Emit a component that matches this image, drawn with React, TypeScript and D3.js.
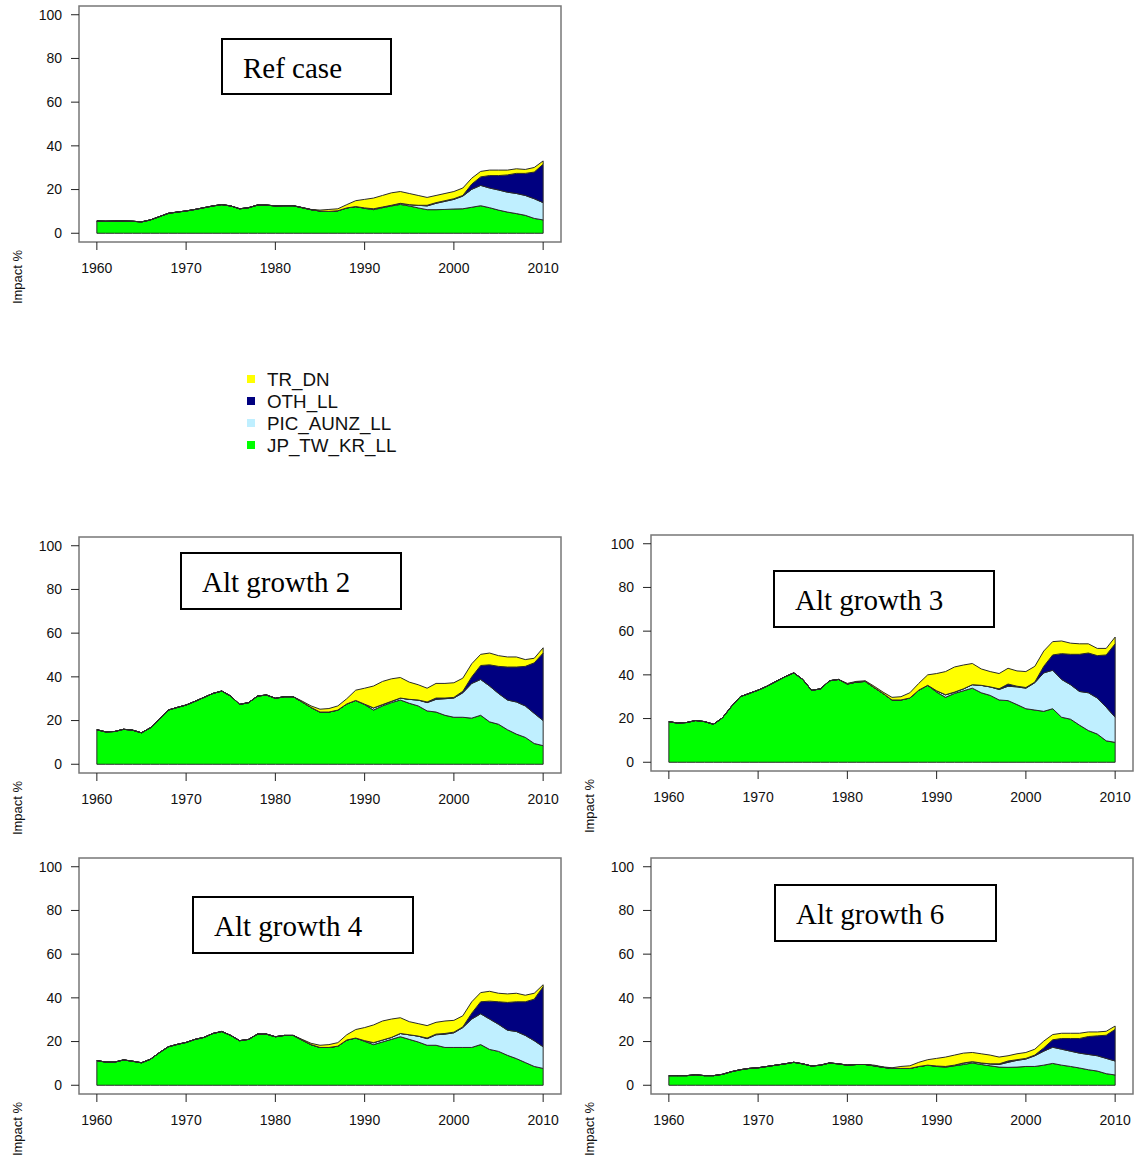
import React from 'react';
import * as d3 from 'd3';

const years = d3.range(1960, 2011);
const xTicks = [1960, 1970, 1980, 1990, 2000, 2010];
const yTicks = [0, 20, 40, 60, 80, 100];
const seriesNames = ['JP_TW_KR_LL', 'PIC_AUNZ_LL', 'OTH_LL', 'TR_DN'];
const seriesColors = ['#00FF00', '#BFEFFF', '#000080', '#FFFF00'];
const legendOrder = [3, 2, 1, 0];

// ---------- Ref case ----------
const refJP = [
  5.6, 5.5, 5.6, 5.6, 5.5, 5.2, 6.1, 7.6, 9.1, 9.7,
  10.2, 10.9, 11.7, 12.5, 13.1, 12.5, 11.2, 11.7, 12.9, 12.9,
  12.5, 12.6, 12.6, 11.7, 10.8, 10.2, 10.0, 10.3, 11.6, 12.2,
  11.4, 10.8, 11.7, 12.5, 13.2, 12.5, 11.6, 10.8, 10.8, 10.9,
  11.1, 11.2, 11.9, 12.6, 11.7, 10.6, 9.7, 9.0, 8.2, 6.8, 6.1];
const refPIC = [
  0, 0, 0, 0, 0, 0, 0, 0, 0, 0,
  0, 0, 0, 0, 0, 0, 0, 0, 0, 0,
  0, 0, 0, 0, 0, 0, 0, 0, 0, 0,
  0.2, 0.4, 0.3, 0.3, 0.5, 0.6, 1.2, 1.7, 2.9, 3.7,
  4.4, 5.8, 8.2, 9.3, 9.0, 9.2, 9.1, 9.2, 9.1, 9.0, 7.9];
const refOTH = [
  0, 0, 0, 0, 0, 0, 0, 0, 0, 0,
  0, 0, 0, 0, 0, 0, 0, 0, 0, 0,
  0, 0, 0, 0, 0, 0, 0, 0, 0, 0,
  0, 0, 0, 0, 0, 0, 0, 0.3, 0.3, 0.3,
  0.3, 0.3, 2.4, 3.9, 5.7, 6.6, 7.9, 9.2, 10.1, 12.2, 17.6];
const refTR = [
  0, 0, 0, 0, 0, 0, 0, 0, 0, 0,
  0, 0, 0, 0, 0, 0, 0, 0, 0, 0,
  0, 0, 0, 0.1, 0.1, 0.4, 0.9, 0.9, 1.5, 2.7,
  3.9, 4.9, 5.3, 5.7, 5.4, 5.1, 4.5, 3.6, 3.3, 3.3,
  3.3, 3.4, 2.7, 2.5, 2.5, 2.5, 2.2, 2.1, 1.8, 2.1, 1.5];

// ---------- Alt growth 2 ----------
const ag2JP = [
  15.8, 14.8, 15.0, 16.0, 15.6, 14.4, 16.7, 20.6, 24.8, 26.0,
  27.1, 28.8, 30.6, 32.4, 33.5, 31.2, 27.4, 28.2, 31.2, 31.7,
  30.2, 30.9, 30.9, 28.5, 26.0, 23.9, 23.9, 24.8, 27.6, 29.2,
  27.3, 24.8, 26.7, 28.2, 29.4, 27.9, 26.7, 24.4, 23.9, 22.4,
  21.5, 21.5, 21.1, 22.4, 19.4, 18.3, 15.8, 13.8, 12.3, 9.5, 8.5];
const ag2PIC = [
  0, 0, 0, 0, 0, 0, 0, 0, 0, 0,
  0, 0, 0, 0, 0, 0, 0, 0, 0, 0,
  0, 0, 0, 0, 0, 0, 0, 0, 0, 0,
  0.2, 1.0, 0.6, 0.6, 0.9, 1.8, 2.7, 3.8, 5.8, 7.6,
  8.8, 11.2, 15.9, 16.4, 16.4, 14.1, 13.6, 14.7, 14.4, 13.8, 11.5];
const ag2OTH = [
  0, 0, 0, 0, 0, 0, 0, 0, 0, 0,
  0, 0, 0, 0, 0, 0, 0, 0, 0, 0,
  0, 0, 0, 0, 0, 0, 0, 0, 0, 0,
  0, 0, 0, 0, 0, 0, 0, 0.3, 0.6, 0.3,
  0.3, 0.7, 3.0, 6.4, 9.7, 12.4, 15.1, 16.0, 18.1, 23.1, 30.9];
const ag2TR = [
  0, 0, 0, 0, 0, 0, 0, 0, 0, 0,
  0, 0, 0, 0, 0, 0, 0, 0, 0, 0,
  0, 0, 0, 0.4, 0.7, 1.3, 1.6, 1.9, 2.4, 4.7,
  7.3, 10.0, 10.6, 10.3, 9.4, 7.9, 7.0, 6.3, 6.7, 6.7,
  6.7, 6.0, 6.0, 5.1, 5.4, 4.9, 4.6, 4.6, 3.1, 2.1, 2.4];

// ---------- Alt growth 3 ----------
const ag3JP = [
  18.6, 17.9, 18.2, 19.1, 18.6, 17.4, 20.3, 25.5, 30.0, 31.5,
  33.0, 34.8, 37.0, 39.1, 40.9, 37.9, 32.9, 33.6, 37.3, 37.9,
  35.8, 36.7, 37.0, 34.2, 31.5, 28.5, 28.5, 29.4, 33.0, 35.2,
  32.1, 29.7, 31.5, 32.7, 33.9, 31.8, 30.6, 28.5, 28.2, 26.4,
  24.5, 23.9, 23.3, 24.5, 20.6, 19.7, 17.0, 14.5, 12.9, 9.8, 9.1];
const ag3PIC = [
  0, 0, 0, 0, 0, 0, 0, 0, 0, 0,
  0, 0, 0, 0, 0, 0, 0, 0, 0, 0,
  0, 0, 0, 0, 0, 0, 0, 0, 0, 0,
  0.6, 1.2, 0.6, 0.9, 1.6, 3.4, 3.9, 4.8, 6.6, 8.1,
  9.4, 12.5, 17.6, 17.6, 17.3, 15.8, 15.4, 17.3, 16.5, 15.4, 11.5];
const ag3OTH = [
  0, 0, 0, 0, 0, 0, 0, 0, 0, 0,
  0, 0, 0, 0, 0, 0, 0, 0, 0, 0,
  0, 0, 0, 0, 0, 0, 0, 0, 0, 0,
  0, 0, 0, 0, 0, 0, 0, 0.3, 1.0, 0.3,
  0.3, 0.3, 3.0, 7.0, 11.8, 13.9, 17.0, 18.2, 19.4, 23.9, 33.6];
const ag3TR = [
  0, 0, 0, 0, 0, 0, 0, 0, 0, 0,
  0, 0, 0, 0, 0, 0, 0, 0, 0, 0,
  0.3, 0.3, 0.3, 0.6, 0.6, 1.2, 1.5, 2.4, 3.1, 4.8,
  7.9, 10.6, 11.5, 10.9, 9.7, 7.5, 7.0, 7.0, 7.2, 7.0,
  7.3, 7.2, 7.0, 6.1, 5.8, 5.1, 4.8, 4.2, 3.3, 3.0, 3.1];

// ---------- Alt growth 4 ----------
const ag4JP = [
  11.3, 10.6, 10.6, 11.6, 11.0, 10.3, 11.9, 14.9, 17.6, 18.7,
  19.6, 21.0, 21.9, 23.7, 24.6, 22.8, 20.4, 21.0, 23.4, 23.4,
  22.2, 22.8, 22.8, 20.7, 18.6, 17.3, 17.3, 17.9, 20.7, 21.6,
  20.1, 18.6, 19.8, 21.0, 22.2, 21.0, 19.8, 18.3, 18.3, 17.3,
  17.3, 17.3, 17.3, 18.6, 16.4, 15.5, 13.7, 12.2, 10.4, 8.6, 7.7];
const ag4PIC = [
  0, 0, 0, 0, 0, 0, 0, 0, 0, 0,
  0, 0, 0, 0, 0, 0, 0, 0, 0, 0,
  0, 0, 0, 0, 0, 0, 0, 0, 0, 0,
  0.3, 0.9, 0.9, 0.9, 1.5, 2.1, 2.7, 3.0, 4.8, 6.1,
  6.7, 9.1, 13.0, 14.1, 13.9, 12.4, 11.5, 12.4, 12.4, 11.8, 9.9];
const ag4OTH = [
  0, 0, 0, 0, 0, 0, 0, 0, 0, 0,
  0, 0, 0, 0, 0, 0, 0, 0, 0, 0,
  0, 0, 0, 0, 0, 0, 0, 0, 0, 0,
  0, 0, 0, 0, 0, 0, 0, 0.3, 0.3, 0.3,
  0.3, 0.3, 2.7, 5.5, 8.2, 10.3, 12.7, 13.6, 15.4, 19.0, 27.5];
const ag4TR = [
  0, 0, 0, 0, 0, 0, 0, 0, 0, 0,
  0, 0, 0, 0, 0, 0, 0, 0, 0, 0,
  0, 0, 0, 0.3, 0.6, 1.0, 1.3, 1.6, 2.4, 3.9,
  6.0, 8.1, 8.7, 8.4, 7.2, 6.0, 5.7, 5.7, 5.4, 5.7,
  5.4, 5.1, 5.2, 4.2, 4.5, 3.9, 3.9, 3.9, 3.0, 2.7, 0.9];

// ---------- Alt growth 6 ----------
const ag6JP = [
  4.4, 4.4, 4.4, 4.8, 4.4, 4.4, 5.0, 6.2, 7.1, 7.7,
  8.0, 8.6, 9.2, 9.8, 10.5, 9.8, 8.8, 9.2, 10.2, 9.8,
  9.2, 9.5, 9.5, 8.9, 8.2, 7.7, 7.7, 7.7, 8.6, 9.2,
  8.6, 8.3, 8.9, 9.5, 10.2, 9.5, 8.9, 8.3, 8.2, 8.3,
  8.6, 8.6, 9.2, 10.0, 9.2, 8.6, 7.9, 7.1, 6.5, 5.3, 4.7];
const ag6PIC = [
  0, 0, 0, 0, 0, 0, 0, 0, 0, 0,
  0, 0, 0, 0, 0, 0, 0, 0, 0, 0,
  0, 0, 0, 0, 0, 0, 0, 0, 0, 0,
  0.2, 0.3, 0.3, 0.7, 0.6, 0.7, 0.9, 1.2, 2.3, 3.1,
  3.4, 4.9, 6.4, 7.4, 7.3, 7.0, 6.8, 7.0, 7.0, 7.0, 6.4];
const ag6OTH = [
  0, 0, 0, 0, 0, 0, 0, 0, 0, 0,
  0, 0, 0, 0, 0, 0, 0, 0, 0, 0,
  0, 0, 0, 0, 0, 0, 0, 0, 0, 0,
  0, 0, 0, 0, 0, 0, 0, 0.3, 0.6, 0.3,
  0.3, 0.3, 1.5, 3.4, 4.9, 5.8, 6.7, 8.2, 9.1, 10.6, 14.5];
const ag6TR = [
  0, 0, 0, 0, 0, 0, 0, 0, 0, 0,
  0, 0, 0, 0, 0, 0, 0, 0, 0, 0,
  0, 0, 0, 0.3, 0.2, 0.3, 0.9, 1.2, 1.9, 2.5,
  3.5, 4.3, 4.6, 4.5, 4.2, 4.2, 4.0, 3.1, 2.4, 2.7,
  2.7, 2.7, 3.1, 2.4, 2.4, 2.4, 2.4, 2.1, 1.8, 1.8, 1.5];

const panels = [
  { title: 'Ref case', series: [refJP, refPIC, refOTH, refTR], left: 79, top: 6, tb: { dx: 143, dy: 33, w: 169, h: 55 } },
  { title: 'Alt growth 2', series: [ag2JP, ag2PIC, ag2OTH, ag2TR], left: 79, top: 537, tb: { dx: 102, dy: 16, w: 220, h: 56 } },
  { title: 'Alt growth 3', series: [ag3JP, ag3PIC, ag3OTH, ag3TR], left: 651, top: 535, tb: { dx: 123, dy: 36, w: 220, h: 56 } },
  { title: 'Alt growth 4', series: [ag4JP, ag4PIC, ag4OTH, ag4TR], left: 79, top: 858, tb: { dx: 114, dy: 39, w: 220, h: 56 } },
  { title: 'Alt growth 6', series: [ag6JP, ag6PIC, ag6OTH, ag6TR], left: 651, top: 858, tb: { dx: 124, dy: 27, w: 221, h: 56 } },
];

const BOX_W = 482;
const BOX_H = 236;
const SANS = "'Liberation Sans', Arial, sans-serif";
const SERIF = "'Liberation Serif', 'Times New Roman', serif";

function Panel({ p }: { p: any }) {
  const x = d3.scaleLinear().domain([1958, 2012]).range([p.left, p.left + BOX_W]);
  const y = d3.scaleLinear().domain([-4, 104]).range([p.top + BOX_H, p.top]);
  const keys = ['s0', 's1', 's2', 's3'];
  const rows = years.map((yr, i) => {
    const r: any = { year: yr };
    keys.forEach((k, j) => (r[k] = p.series[j][i]));
    return r;
  });
  const stacked = d3.stack().keys(keys)(rows);
  const area = d3
    .area<any>()
    .x((d) => x(d.data.year))
    .y0((d) => y(d[0]))
    .y1((d) => y(d[1]));
  const bottom = p.top + BOX_H;
  return (
    <g>
      {stacked.map((layer, i) => (
        <path key={i} d={area(layer as any) || ''} fill={seriesColors[i]} stroke="#2a2a2a" strokeWidth={1} strokeLinejoin="round" />
      ))}
      <rect x={p.left} y={p.top} width={BOX_W} height={BOX_H} fill="none" stroke="#777" strokeWidth={1.5} />
      {yTicks.map((t) => (
        <g key={'y' + t}>
          <line x1={p.left - 8} x2={p.left} y1={y(t)} y2={y(t)} stroke="#222" strokeWidth={1} />
          <text x={p.left - 17} y={y(t)} dy="0.35em" textAnchor="end" fontFamily={SANS} fontSize={14} fill="#111">
            {t}
          </text>
        </g>
      ))}
      {xTicks.map((t) => (
        <g key={'x' + t}>
          <line x1={x(t)} x2={x(t)} y1={bottom} y2={bottom + 8} stroke="#222" strokeWidth={1} />
          <text x={x(t)} y={bottom + 31} textAnchor="middle" fontFamily={SANS} fontSize={14} fill="#111">
            {t}
          </text>
        </g>
      ))}
      <text
        transform={`translate(${p.left - 57},${bottom + 35}) rotate(-90)`}
        textAnchor="middle"
        fontFamily={SANS}
        fontSize={13}
        fill="#111"
      >
        Impact %
      </text>
      <rect x={p.left + p.tb.dx} y={p.top + p.tb.dy} width={p.tb.w} height={p.tb.h} fill="#fff" stroke="#000" strokeWidth={2} />
      <text x={p.left + p.tb.dx + 21} y={p.top + p.tb.dy + 39} fontFamily={SERIF} fontSize={29} fill="#000">
        {p.title}
      </text>
    </g>
  );
}

export default function App() {
  return (
    <svg
      width={1135}
      height={1160}
      style={{ position: 'absolute', left: 0, top: 0, background: '#fff' }}
    >
      <rect x={0} y={0} width={1135} height={1160} fill="#fff" />
      {panels.map((p, i) => (
        <Panel key={i} p={p} />
      ))}
      {legendOrder.map((si, i) => (
        <g key={si}>
          <rect x={247} y={375 + i * 22} width={8} height={8} fill={seriesColors[si]} />
          <text x={267} y={386 + i * 22} fontFamily={SANS} fontSize={18.8} fill="#111">
            {seriesNames[si]}
          </text>
        </g>
      ))}
    </svg>
  );
}
